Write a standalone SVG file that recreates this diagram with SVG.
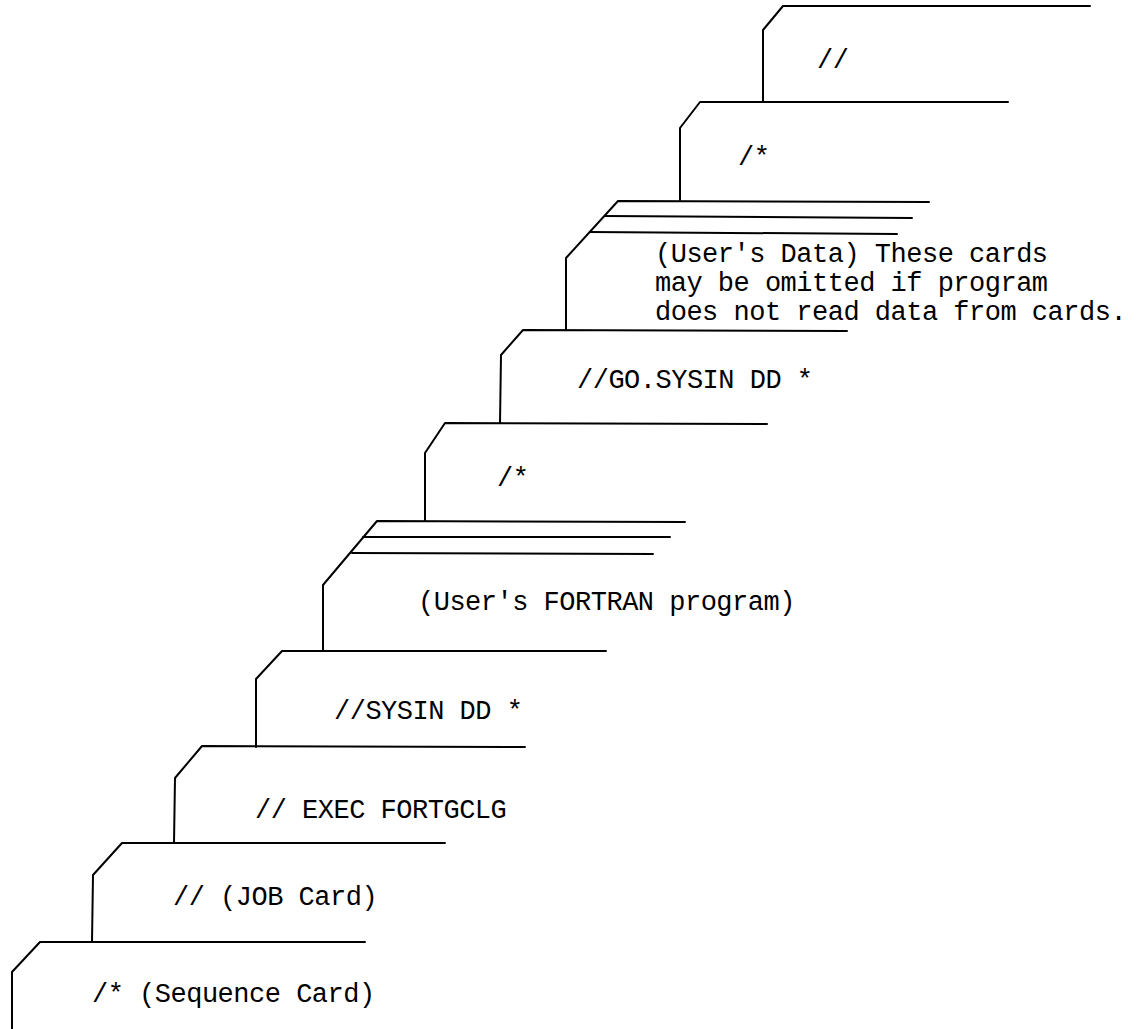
<svg xmlns="http://www.w3.org/2000/svg" width="1141" height="1029" viewBox="0 0 1141 1029">
  <style>
    .edge { fill: none; stroke: #000; stroke-width: 2; stroke-linejoin: round; stroke-linecap: round; }
    .label { font-family: "Liberation Mono", "DejaVu Sans Mono", monospace; font-size: 27px; letter-spacing: -0.5px; fill: #000; }
  </style>
  <rect width="1141" height="1029" fill="#fff"/>

  <!-- punched-card deck, drawn from the last card (top) to the first (bottom) -->
  <g id="card-end-of-job">
    <path class="edge" d="M1090,6 L783,6 L763,30 L763,101"/>
    <text class="label" x="817" y="68">//</text>
  </g>

  <g id="card-end-of-data">
    <path class="edge" d="M1008,102 L700,102 L680,128 L680,200"/>
    <text class="label" x="738" y="165">/*</text>
  </g>

  <g id="card-user-data">
    <path class="edge" d="M929,202 L618,201 L566,258 L566,330"/>
    <path class="edge" d="M912,218 L605,216"/>
    <path class="edge" d="M897,234 L590,232"/>
    <text class="label" x="655" y="262">(User's Data) These cards</text>
    <text class="label" x="655" y="291">may be omitted if program</text>
    <text class="label" x="655" y="320">does not read data from cards.</text>
  </g>

  <g id="card-go-sysin">
    <path class="edge" d="M847,331 L523,330 L501,355 L500,423"/>
    <text class="label" x="577" y="388">//GO.SYSIN DD *</text>
  </g>

  <g id="card-end-of-source">
    <path class="edge" d="M767,424 L445,423 L425,453 L425,521"/>
    <text class="label" x="497" y="486">/*</text>
  </g>

  <g id="card-fortran-program">
    <path class="edge" d="M685,522 L377,521 L323,585 L323,651"/>
    <path class="edge" d="M670,537 L363,537"/>
    <path class="edge" d="M653,554 L352,553"/>
    <text class="label" x="418" y="610">(User's FORTRAN program)</text>
  </g>

  <g id="card-sysin">
    <path class="edge" d="M606,651 L282,651 L256,679 L256,747"/>
    <text class="label" x="334" y="719">//SYSIN DD *</text>
  </g>

  <g id="card-exec">
    <path class="edge" d="M525,747 L202,746 L175,778 L174,843"/>
    <text class="label" x="255" y="818">// EXEC FORTGCLG</text>
  </g>

  <g id="card-job">
    <path class="edge" d="M445,843 L122,843 L93,875 L92,942"/>
    <text class="label" x="173" y="905">// (JOB Card)</text>
  </g>

  <g id="card-sequence">
    <path class="edge" d="M365,942 L40,942 L12,972 L12,1029"/>
    <text class="label" x="92" y="1002">/* (Sequence Card)</text>
  </g>

  <g id="connectors"/>
</svg>
